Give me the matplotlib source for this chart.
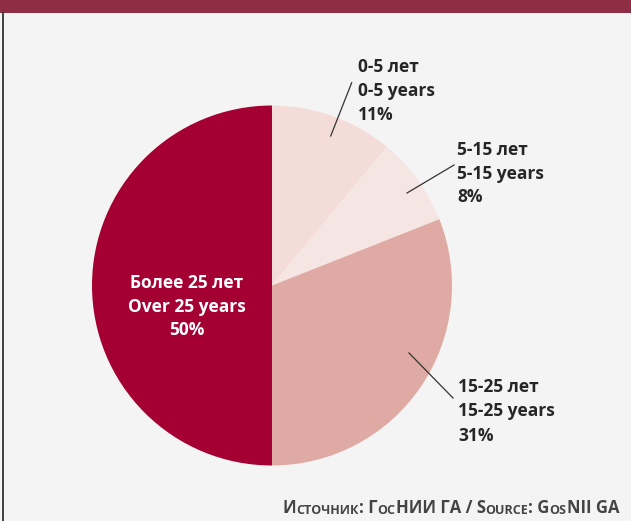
import matplotlib
matplotlib.use("Agg")
import matplotlib.pyplot as plt
from matplotlib.patches import Rectangle

labels_ru = ["0-5 лет", "5-15 лет", "15-25 лет", "Более 25 лет"]
labels_en = ["0-5 years", "5-15 years", "15-25 years", "Over 25 years"]
values = [11, 8, 31, 50]
colors = ["#F4DDD9", "#F6E6E3", "#DFAAA4", "#A50034"]

W, H = 631, 521
fig = plt.figure(figsize=(W / 100, H / 100), dpi=100)
fig.patch.set_facecolor("#F4F4F4")
ax = fig.add_axes([0, 0, 1, 1])
ax.set_xlim(0, W)
ax.set_ylim(0, H)
ax.set_aspect("equal")
ax.axis("off")

FONT = "Open Sans"

def Y(py):
    return H - py

# top band and left border
ax.add_patch(Rectangle((0, Y(13)), W, 13, color="#8E2D43", lw=0, zorder=1))
ax.plot([2.5, 2.5], [0, Y(13)], color="#333333", lw=1.3, zorder=1)

cx, cy, r = 272, Y(285.5), 180
ax.pie(values, colors=colors, startangle=90, counterclock=False,
       center=(cx, cy), radius=r, frame=True,
       wedgeprops=dict(linewidth=0))
ax.set_xlim(0, W)
ax.set_ylim(0, H)
ax.axis("off")

txt = dict(fontfamily=FONT, fontweight="bold", fontsize=12.5, color="#262626",
           ha="left", va="center")

label_pos = [(358, [67, 91, 115]), (457, [150, 174, 197]), (458, [387, 411, 436])]
for i, (x, ys) in enumerate(label_pos):
    for line, y in zip([labels_ru[i], labels_en[i], f"{values[i]}%"], ys):
        ax.text(x, Y(y), line, **txt)

# leader lines
leaders = [((351.7, 82.7), (330.7, 136)), ((454, 165), (407, 193)), ((409, 353), (453, 398))]
for (x0, y0), (x1, y1) in leaders:
    ax.plot([x0, x1], [Y(y0), Y(y1)], color="#333333", lw=0.9)

# center label
for line, y in zip([labels_ru[3], labels_en[3], f"{values[3]}%"], [283, 307, 330]):
    ax.text(187, Y(y), line, fontfamily=FONT, fontweight="bold", fontsize=12.5,
            color="white", ha="center", va="center")

# source with small caps
parts = [("И", 12), ("СТОЧНИК", 9), (": Г", 12), ("ОС", 9), ("НИИ ГА / S", 12),
         ("OURCE", 9), (": G", 12), ("OS", 9), ("NII GA", 12)]
tprops = dict(fontfamily=FONT, fontweight="bold", color="#444444")
prev = ax.text(283, Y(513), parts[0][0], fontsize=parts[0][1], ha="left", va="baseline", **tprops)
for s, fs in parts[1:]:
    prev = ax.annotate(s, xy=(1, 0), xycoords=prev, xytext=(0, 0), textcoords="offset points",
                       ha="left", va="bottom", fontsize=fs, **tprops)

fig.savefig("out.png", dpi=100, facecolor=fig.get_facecolor())
